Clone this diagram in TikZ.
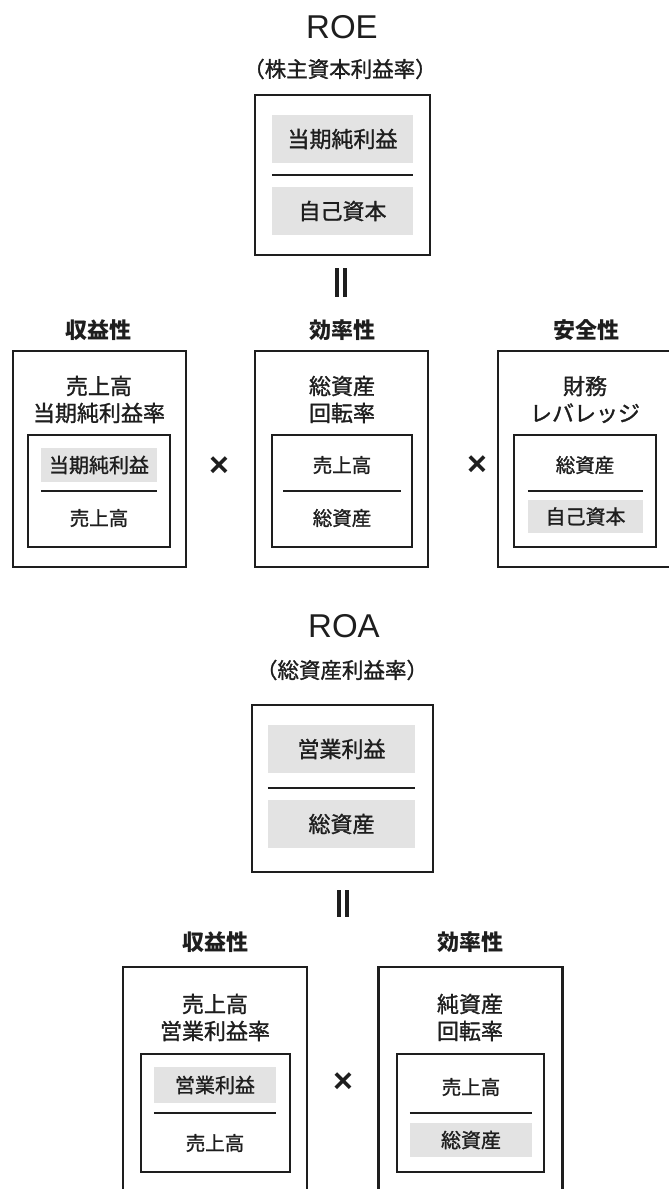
\documentclass[tikz,border=0pt]{standalone}
\usepackage{fontspec}
\newfontfamily\jp[FakeBold=1.2]{Noto Sans CJK JP}
\newfontfamily\jph{Noto Sans CJK JP}
\newfontfamily\lat{Liberation Sans}
\definecolor{ink}{HTML}{1E1E1E}
\definecolor{band}{HTML}{E3E3E3}
\begin{document}
\begin{tikzpicture}[x=1pt,y=-1pt,
  outerbox/.style={draw=ink, line width=2.6pt, inner sep=0pt},
  innerbox/.style={draw=ink, line width=1.3pt, inner sep=0pt},
  bandbox/.style={fill=band, inner sep=0pt, text=ink, font=\jp\fontsize{20}{24}\selectfont},
  bigband/.style={fill=band, inner sep=0pt, text=ink, font=\jp\fontsize{22}{26}\selectfont},
  fractxt/.style={inner sep=0pt, text=ink, font=\jp\fontsize{19.5}{24}\selectfont},
  boxtitle/.style={inner sep=0pt, text=ink, align=center, font=\jp\fontsize{22}{27}\selectfont},
  heading/.style={inner sep=0pt, text=ink, font=\jph\bfseries\fontsize{22}{26}\selectfont},
  bigtitle/.style={inner sep=0pt, text=ink, font=\lat\fontsize{33}{36}\selectfont},
  subtitle/.style={inner sep=0pt, text=ink, font=\jp\fontsize{21.5}{26}\selectfont},
  timesmark/.style={inner sep=0pt, text=ink, font=\lat\bfseries\fontsize{34}{36}\selectfont},
  divider/.style={draw=ink, line width=1.6pt},
  eqbar/.style={draw=ink, line width=3.6pt}]
\clip (0,0) rectangle (669,1189);
\fill[white] (0,0) rectangle (669,1189);

% ===== ROE =====
\node[bigtitle] (roe) at (342,27) {ROE};
\node[subtitle] (roesub) at (340,69) {（株主資本利益率）};
\node[outerbox, minimum width=175pt, minimum height=160pt] (roebox) at (342.5,175) {};
\node[bigband, minimum width=141pt, minimum height=48pt] (roenum) at (342.5,139) {当期純利益};
\node[bigband, minimum width=141pt, minimum height=48pt] (roeden) at (342.5,211) {自己資本};
\draw[divider] ([yshift=-12pt]roenum.south west) -- ([yshift=-12pt]roenum.south east);
\coordinate (e1at) at (337,268); \coordinate (e1ab) at (337,297);
\coordinate (e1bt) at (345,268); \coordinate (e1bb) at (345,297);
\draw[eqbar] (e1at) -- (e1ab);
\draw[eqbar] (e1bt) -- (e1bb);

% ===== ROE decomposition =====
\node[heading] (h1) at (98,330) {収益性};
\node[heading] (h2) at (342,330) {効率性};
\node[heading] (h3) at (586,330) {安全性};

\node[outerbox, minimum width=173pt, minimum height=216pt] (b1) at (99.5,459) {};
\node[outerbox, minimum width=173pt, minimum height=216pt] (b2) at (341.5,459) {};
\node[outerbox, minimum width=172pt, minimum height=216pt] (b3) at (584,459) {};

\node[boxtitle] (t1) at (99,399.5) {売上高\\当期純利益率};
\node[boxtitle] (t2) at (342,399.5) {総資産\\回転率};
\node[boxtitle] (t3) at (585,399.5) {財務\\レバレッジ};

\node[innerbox, minimum width=142pt, minimum height=112pt] (i1) at (99,491) {};
\node[innerbox, minimum width=140pt, minimum height=112pt] (i2) at (342,491) {};
\node[innerbox, minimum width=142pt, minimum height=112pt] (i3) at (585,491) {};

\node[bandbox, minimum width=116pt, minimum height=34pt] (n1) at (99,465) {当期純利益};
\node[fractxt] (d1) at (99,518) {売上高};
\draw[divider] (i1.west -| n1.west) -- (i1.east -| n1.east);

\node[fractxt] (n2) at (342,465) {売上高};
\node[fractxt] (d2) at (342,518) {総資産};
\coordinate (l2a) at (283,491); \coordinate (l2b) at (401,491);
\draw[divider] (l2a) -- (l2b);

\node[fractxt] (n3) at (585,465) {総資産};
\node[bandbox, minimum width=115pt, minimum height=33pt] (d3) at (585.5,516.5) {自己資本};
\draw[divider] (i3.west -| d3.west) -- (i3.east -| d3.east);

\node[timesmark] (x1) at (219,467) {×};
\node[timesmark] (x2) at (477,466) {×};

% ===== ROA =====
\node[bigtitle] (roa) at (344,626) {ROA};
\node[subtitle] (roasub) at (342,670) {（総資産利益率）};
\node[outerbox, minimum width=181pt, minimum height=167pt] (roabox) at (342.5,788.5) {};
\node[bigband, minimum width=147pt, minimum height=48pt] (roanum) at (341.5,749) {営業利益};
\node[bigband, minimum width=147pt, minimum height=48pt] (roaden) at (341.5,824) {総資産};
\draw[divider] ([yshift=-15pt]roanum.south west) -- ([yshift=-15pt]roanum.south east);
\coordinate (e2at) at (339,890); \coordinate (e2ab) at (339,917);
\coordinate (e2bt) at (347,890); \coordinate (e2bb) at (347,917);
\draw[eqbar] (e2at) -- (e2ab);
\draw[eqbar] (e2bt) -- (e2bb);

% ===== ROA decomposition =====
\node[heading] (h4) at (215,942) {収益性};
\node[heading] (h5) at (470,942) {効率性};

\node[outerbox, minimum width=184pt, minimum height=240pt] (b4) at (215,1087) {};
\node[outerbox, minimum width=184pt, minimum height=240pt] (b5) at (470.5,1087) {};

\node[boxtitle] (t4) at (215,1017.5) {売上高\\営業利益率};
\node[boxtitle] (t5) at (470,1017.5) {純資産\\回転率};

\node[innerbox, minimum width=149pt, minimum height=118pt] (i4) at (215.5,1113) {};
\node[innerbox, minimum width=147pt, minimum height=118pt] (i5) at (470.5,1113) {};

\node[bandbox, minimum width=122pt, minimum height=36pt] (n4) at (215,1085) {営業利益};
\node[fractxt] (d4) at (215,1143) {売上高};
\draw[divider] (i4.west -| n4.west) -- (i4.east -| n4.east);

\node[fractxt] (n5) at (471,1087) {売上高};
\node[bandbox, minimum width=122pt, minimum height=34pt] (d5) at (471,1140) {総資産};
\draw[divider] (i5.west -| d5.west) -- (i5.east -| d5.east);

\node[timesmark] (x3) at (343,1083) {×};
\end{tikzpicture}
\end{document}
